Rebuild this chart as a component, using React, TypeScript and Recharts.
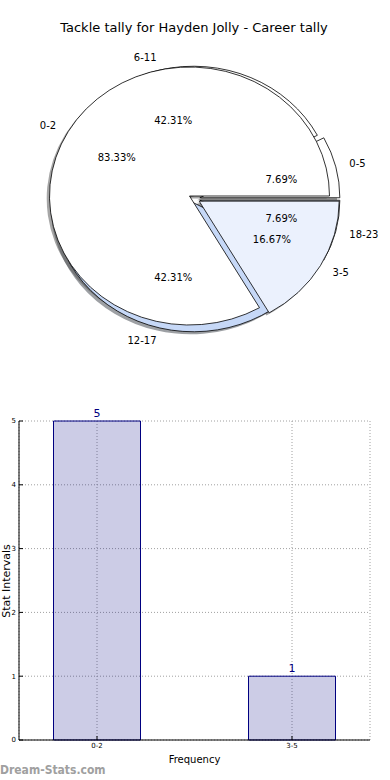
import React from 'react';
import {
  PieChart, Pie, BarChart, Bar, XAxis, YAxis, CartesianGrid, LabelList,
} from 'recharts';

// inner ring of the pie (same buckets as the bar chart)
const innerNames = ['0-2', '3-5'];
const innerValues = [5, 1];
// outer split of the pie
const outerNames = ['0-5', '6-11', '12-17', '18-23'];
const outerValues = [2, 11, 11, 2];

const barCategories = ['0-2', '3-5'];
const barValues = [5, 1];
const yTicks = [0, 1, 2, 3, 4, 5];

// styles
const innerColors = ['#ffffff', '#ebf1fd'];
const outerColors = ['#ffffff', '#ffffff', '#c6d8f7', '#ebf1fd'];
const innerExplode = [0, 0.08];
const outerExplode = [0.04, 0.03, 0.03, 0.04];

const FONT = '"DejaVu Sans", sans-serif';
const INNER_CX = 189.5;
const INNER_CY = 196;
const OUTER_CX = 194.4;
const OUTER_CY = 199;
const RX = 140;
const RY = 129;
const RAD = Math.PI / 180;

const innerData = innerNames.map((name, i) => ({ name, value: innerValues[i] }));
const outerData = outerNames.map((name, i) => ({ name, value: outerValues[i] }));
const barData = barCategories.map((name, i) => ({ pos: i, name, value: barValues[i] }));

function wedgePath(cx: number, cy: number, rx: number, ry: number, a0: number, a1: number) {
  const x0 = cx + rx * Math.cos(a0 * RAD);
  const y0 = cy - ry * Math.sin(a0 * RAD);
  const x1 = cx + rx * Math.cos(a1 * RAD);
  const y1 = cy - ry * Math.sin(a1 * RAD);
  const large = a1 - a0 > 180 ? 1 : 0;
  return `M${cx},${cy} L${x0},${y0} A${rx},${ry} 0 ${large} 0 ${x1},${y1} Z`;
}

function darken(hex: string) {
  const n = parseInt(hex.slice(1), 16);
  const r = Math.round(((n >> 16) & 255) * 0.3);
  const g = Math.round(((n >> 8) & 255) * 0.3);
  const b = Math.round((n & 255) * 0.3);
  return `rgb(${r},${g},${b})`;
}

// centre of a slice after exploding it
function sliceCenter(p: any, explode: number[], idx: number) {
  const a0 = Math.min(p.startAngle, p.endAngle);
  const a1 = Math.max(p.startAngle, p.endAngle);
  const mid = ((a0 + a1) / 2) * RAD;
  const rx = p.outerRadius;
  const ry = (p.outerRadius * RY) / RX;
  const e = explode[idx] || 0;
  return { x: p.cx + e * rx * Math.cos(mid), y: p.cy - e * ry * Math.sin(mid), a0, a1, mid, rx, ry };
}

// shadows of both rings go under every wedge, like matplotlib's zorder
function makeShape(names: string[], colors: string[], explode: number[], mode: 'shadow' | 'wedge') {
  return (p: any) => {
    const idx = names.indexOf(p.name ?? p.payload?.name);
    const c = sliceCenter(p, explode, idx);
    const fill = colors[idx] || '#ffffff';
    if (mode === 'shadow') {
      return (
        <path
          d={wedgePath(c.x - 0.02 * c.rx, c.y + 0.02 * c.ry, c.rx, c.ry, c.a0, c.a1)}
          fill={darken(fill)}
          fillOpacity={0.5}
          stroke="none"
        />
      );
    }
    return <path d={wedgePath(c.x, c.y, c.rx, c.ry, c.a0, c.a1)} fill={fill} stroke="#000" strokeWidth={0.8} />;
  };
}

function makeLabel(names: string[], explode: number[]) {
  return (p: any) => {
    const idx = p.index;
    const c = sliceCenter(p, explode, idx);
    const px = c.x + 0.6 * c.rx * Math.cos(c.mid);
    const py = c.y - 0.6 * c.ry * Math.sin(c.mid);
    const lx = c.x + 1.1 * c.rx * Math.cos(c.mid);
    const ly = c.y - 1.1 * c.ry * Math.sin(c.mid);
    return (
      <g>
        <text x={px} y={py} textAnchor="middle" dominantBaseline="central" fontSize={10} fontFamily={FONT} fill="#000">
          {(p.percent * 100).toFixed(2)}%
        </text>
        <text
          x={lx}
          y={ly}
          textAnchor={Math.cos(c.mid) > 0 ? 'start' : 'end'}
          dominantBaseline="central"
          fontSize={10}
          fontFamily={FONT}
          fill="#000"
        >
          {names[idx]}
        </text>
      </g>
    );
  };
}

const hidden = () => <g />;

const pieBase = {
  dataKey: 'value',
  nameKey: 'name',
  outerRadius: RX,
  startAngle: 0,
  endAngle: 360,
  stroke: 'none',
  isAnimationActive: false,
};
const innerPos = { cx: INNER_CX, cy: INNER_CY };
const outerPos = { cx: OUTER_CX, cy: OUTER_CY };

export default function App() {
  return (
    <div style={{ position: 'absolute', left: 0, top: 0, width: 390, height: 780, background: '#fff', overflow: 'hidden', fontFamily: FONT }}>
      <div style={{ position: 'absolute', top: 20, left: 0, width: 388, textAlign: 'center', fontSize: 13, color: '#000' }}>
        Tackle tally for Hayden Jolly - Career tally
      </div>

      <div style={{ position: 'absolute', top: 0, left: 0 }}>
        <PieChart width={390} height={380} margin={{ top: 0, right: 0, bottom: 0, left: 0 }}>
          <Pie {...pieBase} {...outerPos} data={outerData} shape={makeShape(outerNames, outerColors, outerExplode, 'shadow')} />
          <Pie {...pieBase} {...innerPos} data={innerData} shape={makeShape(innerNames, innerColors, innerExplode, 'shadow')} />
          <Pie {...pieBase} {...outerPos} data={outerData} shape={makeShape(outerNames, outerColors, outerExplode, 'wedge')} />
          <Pie {...pieBase} {...innerPos} data={innerData} shape={makeShape(innerNames, innerColors, innerExplode, 'wedge')} />
          {/* text-only layers so every label sits above both rings */}
          <Pie
            {...pieBase}
            {...outerPos}
            data={outerData}
            fill="none"
            shape={hidden}
            label={makeLabel(outerNames, outerExplode)}
            labelLine={false}
          />
          <Pie
            {...pieBase}
            {...innerPos}
            data={innerData}
            fill="none"
            shape={hidden}
            label={makeLabel(innerNames, innerExplode)}
            labelLine={false}
          />
        </PieChart>
      </div>

      <div style={{ position: 'absolute', top: 400, left: 0 }}>
        <BarChart width={390} height={380} data={barData} margin={{ top: 21, right: 20, left: 0, bottom: 0 }}>
          <CartesianGrid stroke="#a0a0a0" strokeDasharray="1 2" />
          <XAxis
            dataKey="pos"
            type="number"
            domain={[-0.4, 1.4]}
            ticks={[0, 1]}
            tickFormatter={(v: number) => barCategories[v] ?? ''}
            height={40}
            tickSize={-4}
            tickMargin={7}
            axisLine={{ stroke: '#000' }}
            tickLine={{ stroke: '#000' }}
            tick={{ fontSize: 7, fill: '#000', fontFamily: FONT }}
          />
          <XAxis
            xAxisId="top"
            orientation="top"
            dataKey="pos"
            type="number"
            domain={[-0.4, 1.4]}
            ticks={[0, 1]}
            tickFormatter={() => ''}
            height={0}
            tickSize={-4}
            axisLine={{ stroke: '#000' }}
            tickLine={{ stroke: '#000' }}
          />
          <YAxis
            domain={[0, 5]}
            ticks={yTicks}
            width={19}
            tickSize={-4}
            tickMargin={7}
            axisLine={{ stroke: '#000' }}
            tickLine={{ stroke: '#000' }}
            tick={{ fontSize: 7, fill: '#000', fontFamily: FONT }}
          />
          <YAxis
            yAxisId="right"
            orientation="right"
            domain={[0, 5]}
            ticks={yTicks}
            width={0}
            tickSize={-4}
            tickFormatter={() => ''}
            axisLine={{ stroke: '#000' }}
            tickLine={{ stroke: '#000' }}
          />
          <Bar dataKey="value" barSize={87} fill="#000080" fillOpacity={0.2} stroke="#000080" strokeWidth={1} isAnimationActive={false}>
            <LabelList dataKey="value" position="top" offset={4} fill="#000080" fontSize={11} fontFamily={FONT} />
          </Bar>
        </BarChart>
      </div>

      <div style={{ position: 'absolute', top: 754, left: 19, width: 351, textAlign: 'center', fontSize: 10, color: '#000' }}>
        Frequency
      </div>
      <div
        style={{
          position: 'absolute',
          left: 7,
          top: 581,
          fontSize: 11,
          lineHeight: '12px',
          color: '#000',
          whiteSpace: 'nowrap',
          transform: 'translate(-50%, -50%) rotate(-90deg)',
        }}
      >
        Stat Intervals
      </div>
      <div
        style={{
          position: 'absolute',
          left: 0,
          top: 763,
          fontSize: 12,
          fontWeight: 'bold',
          fontFamily: '"DejaVu Sans Condensed", "DejaVu Sans", sans-serif',
          color: '#a0a0a0',
          whiteSpace: 'nowrap',
        }}
      >
        Dream-Stats.com
      </div>
    </div>
  );
}
